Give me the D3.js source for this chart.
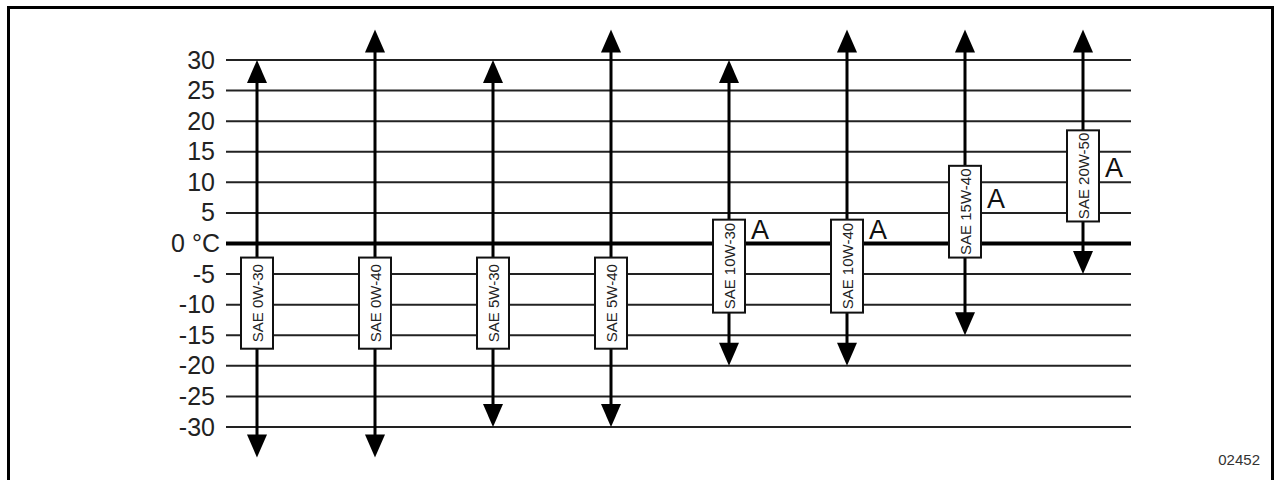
<!DOCTYPE html>
<html>
<head>
<meta charset="utf-8">
<script src="https://cdn.jsdelivr.net/npm/d3@7"></script>
<style>
  body { margin: 0; background: #fff; }
  text { font-family: "Liberation Sans", Arial, sans-serif; }
</style>
</head>
<body>
<div class="chart"></div>
<script>
// oil grades and the temperature range each one covers (°C)
const grades = ['SAE 0W-30', 'SAE 0W-40', 'SAE 5W-30', 'SAE 5W-40', 'SAE 10W-30', 'SAE 10W-40', 'SAE 15W-40', 'SAE 20W-50'];
const rangeMin = [-35, -35, -30, -30, -20, -20, -15, -5];
const rangeMax = [30, 35, 30, 35, 30, 35, 35, 35];

// where the label box sits on each arrow (°C)
const boxTop = [-2.3, -2.3, -2.3, -2.3, 3.9, 3.9, 12.7, 18.5];
const boxBottom = [-17.2, -17.2, -17.2, -17.2, -11.3, -11.3, -2.3, 3.6];

// the "A" note sits on these gridlines, null where there is none
const noteLevel = [null, null, null, null, 0, 0, 5, 10];

const ticks = [30, 25, 20, 15, 10, 5, 0, -5, -10, -15, -20, -25, -30];

const width = 1275;
const height = 480;

let svg = d3.select('.chart').append('svg').attr('width', width).attr('height', height);

const y = d3.scaleLinear().domain([-30, 30]).range([427, 60]);
const x = d3.scalePoint().domain(grades).range([257, 1083]);

const gridLeft = 226;
const gridRight = 1131;

// outer frame
svg.append('rect')
    .attr('x', 8.5).attr('y', 7.5)
    .attr('width', 1264).attr('height', 480)
    .attr('fill', 'none').attr('stroke', '#000').attr('stroke-width', 3);

// horizontal gridlines, the zero line heavier
svg.append('g').selectAll('line')
    .data(ticks)
    .join('line')
    .attr('x1', gridLeft).attr('x2', gridRight)
    .attr('y1', d => y(d)).attr('y2', d => y(d))
    .attr('stroke', d => d === 0 ? '#000' : '#222')
    .attr('stroke-width', d => d === 0 ? 4 : 2);

// tick labels from the axis generator
let axis = svg.append('g')
    .attr('transform', 'translate(215,0)')
    .call(d3.axisLeft(y).tickValues(ticks).tickSize(0).tickPadding(0)
        .tickFormat(d => d === 0 ? '0 °C' : d));
axis.select('.domain').remove();
axis.selectAll('text')
    .attr('font-size', 25)
    .attr('font-family', '"Liberation Sans", Arial, sans-serif')
    .attr('fill', '#222')
    .attr('dx', d => d === 0 ? 5 : 0);

let rows = grades.map((g, i) => ({
    grade: g, lo: rangeMin[i], hi: rangeMax[i],
    top: boxTop[i], bottom: boxBottom[i], note: noteLevel[i]
}));

// arrow shafts
const head = 23;
const half = 10;
svg.append('g').selectAll('line')
    .data(rows)
    .join('line')
    .attr('x1', d => x(d.grade)).attr('x2', d => x(d.grade))
    .attr('y1', d => y(d.hi) + head - 2).attr('y2', d => y(d.lo) - head + 2)
    .attr('stroke', '#000').attr('stroke-width', 3);

// arrow heads at both ends
let heads = svg.append('g');
heads.selectAll('path.up')
    .data(rows)
    .join('path')
    .attr('class', 'up')
    .attr('d', d => {
        let cx = x(d.grade), t = y(d.hi);
        return `M${cx},${t}L${cx + half},${t + head}L${cx - half},${t + head}Z`;
    })
    .attr('fill', '#000');
heads.selectAll('path.down')
    .data(rows)
    .join('path')
    .attr('class', 'down')
    .attr('d', d => {
        let cx = x(d.grade), t = y(d.lo);
        return `M${cx},${t}L${cx + half},${t - head}L${cx - half},${t - head}Z`;
    })
    .attr('fill', '#000');

// label boxes
const boxW = 32;
let boxes = svg.append('g').selectAll('g')
    .data(rows)
    .join('g');
boxes.append('rect')
    .attr('x', d => x(d.grade) - boxW / 2)
    .attr('y', d => y(d.top))
    .attr('width', boxW)
    .attr('height', d => y(d.bottom) - y(d.top))
    .attr('fill', '#fff')
    .attr('stroke', '#111')
    .attr('stroke-width', 2);
boxes.append('text')
    .attr('transform', d => `translate(${x(d.grade) + 5.5},${(y(d.top) + y(d.bottom)) / 2}) rotate(-90)`)
    .attr('text-anchor', 'middle')
    .attr('font-size', 15)
    .attr('fill', '#222')
    .text(d => d.grade);

// the "A" notes
svg.append('g').selectAll('text')
    .data(rows.filter(d => d.note !== null))
    .join('text')
    .attr('x', d => x(d.grade) + boxW / 2 + 6)
    .attr('y', d => y(d.note) - 5)
    .attr('font-size', 27)
    .attr('fill', '#111')
    .text('A');

// figure number
svg.append('text')
    .attr('x', 1260).attr('y', 465)
    .attr('text-anchor', 'end')
    .attr('font-size', 15)
    .attr('fill', '#333')
    .text('02452');
</script>
</body>
</html>
